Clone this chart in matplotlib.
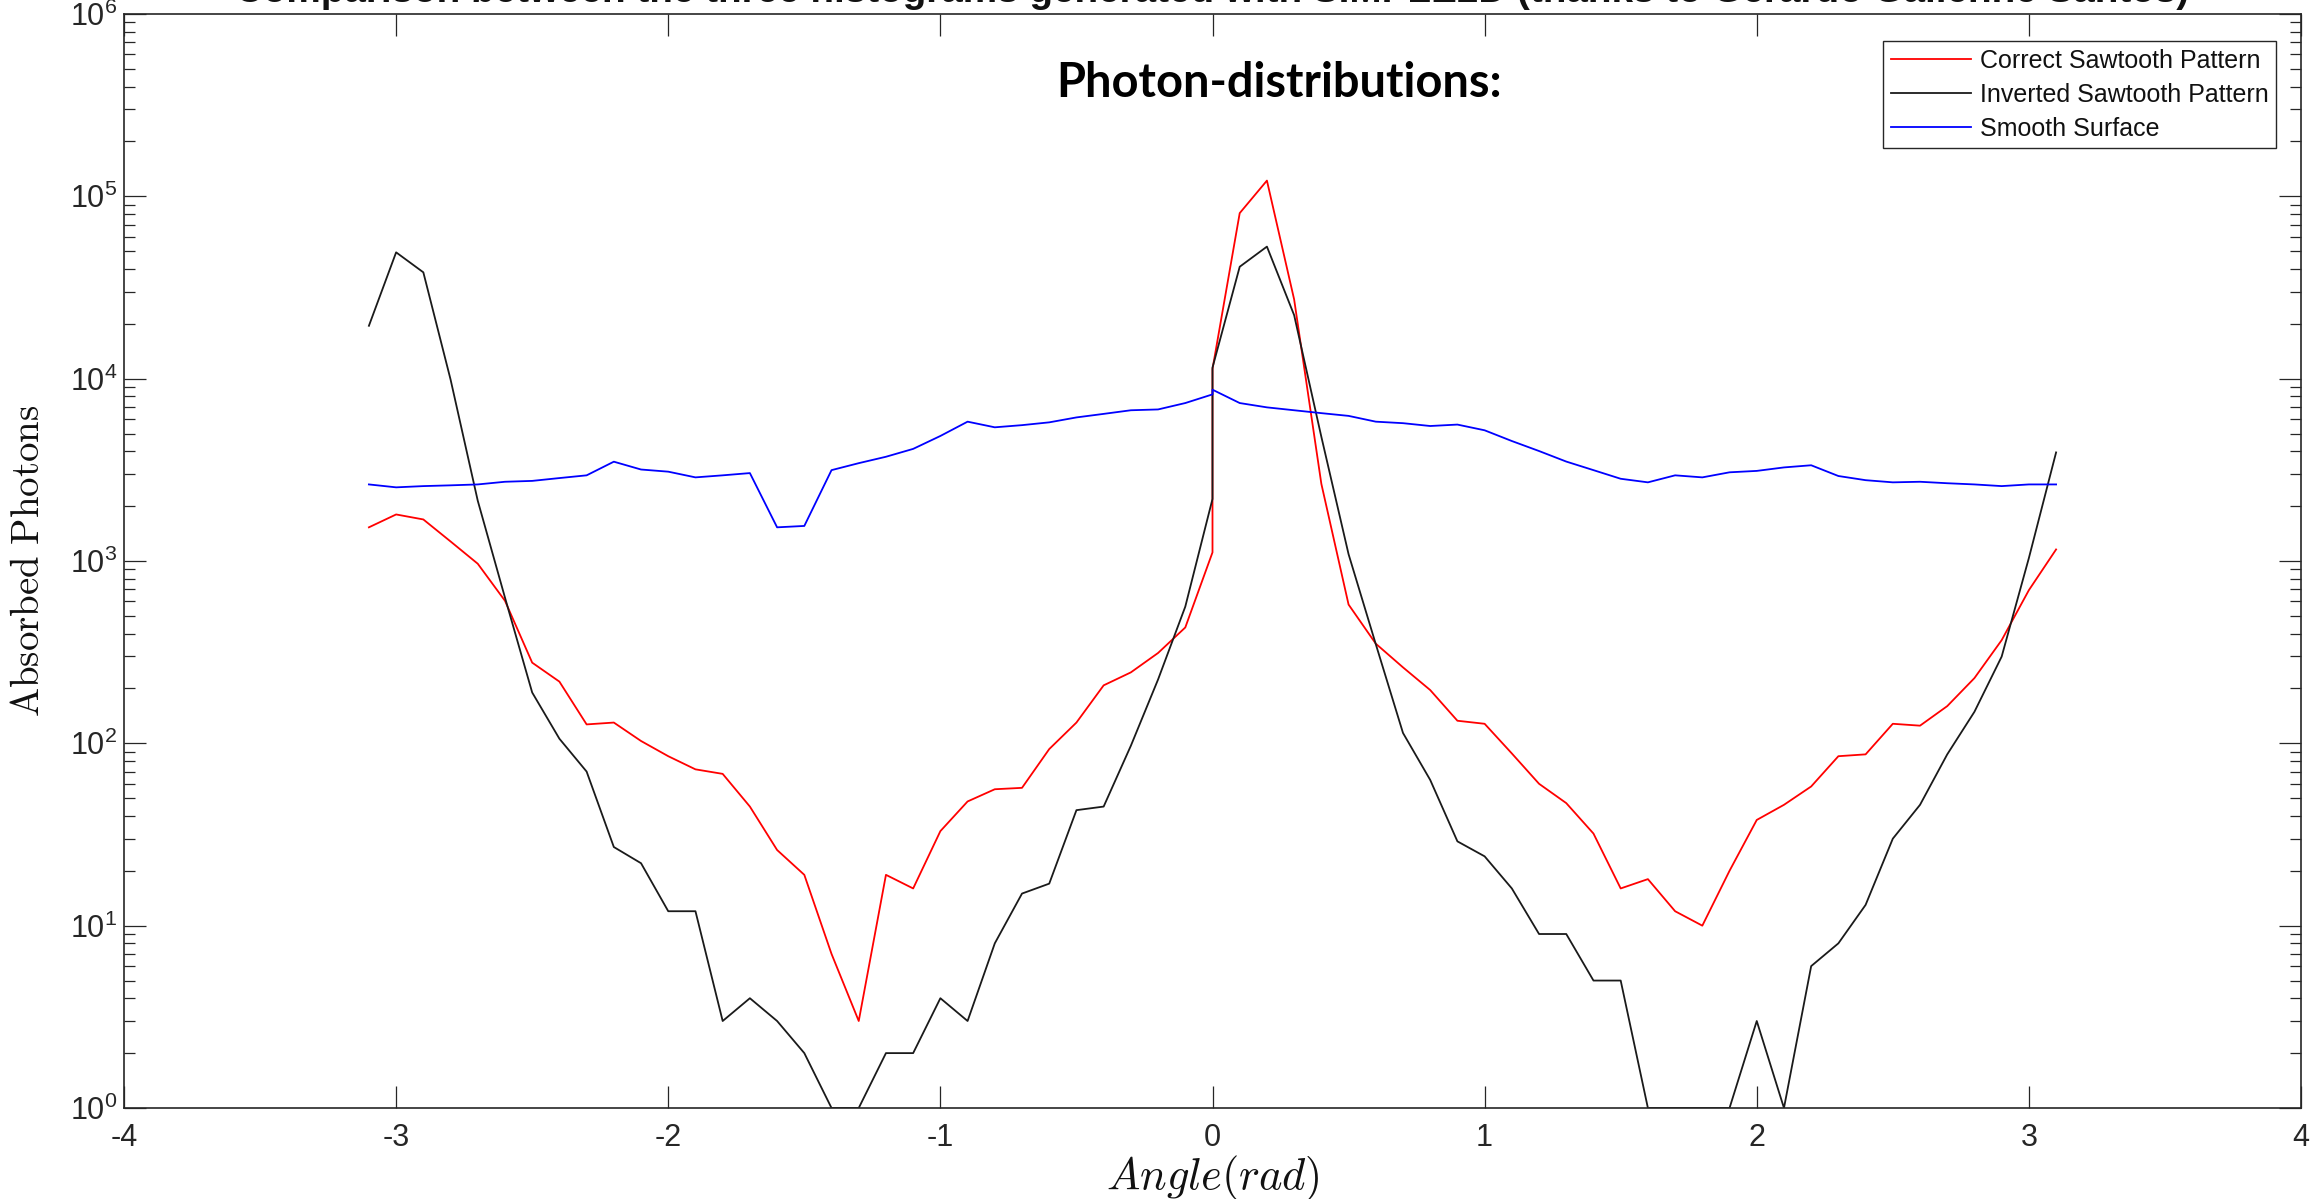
import matplotlib
matplotlib.use('Agg')
import numpy as np
import matplotlib.pyplot as plt
from matplotlib.ticker import FixedLocator, FuncFormatter, NullFormatter

# ---------------- data ----------------
angle = [-3.1, -3.0, -2.9, -2.8, -2.7, -2.6, -2.5, -2.4, -2.3, -2.2, -2.1,
         -2.0, -1.9, -1.8, -1.7, -1.6, -1.5, -1.4, -1.3, -1.2, -1.1,
         -1.0, -0.9, -0.8, -0.7, -0.6, -0.5, -0.4, -0.3, -0.2, -0.1,
         0.0, 0.0,
         0.1, 0.2, 0.3, 0.4, 0.5, 0.6, 0.7, 0.8, 0.9, 1.0,
         1.1, 1.2, 1.3, 1.4, 1.5, 1.6, 1.7, 1.8, 1.9, 2.0,
         2.1, 2.2, 2.3, 2.4, 2.5, 2.6, 2.7, 2.8, 2.9, 3.0, 3.1]

correct_sawtooth = [1530, 1800, 1690, 1280, 966, 605, 277, 218, 127, 130, 103,
                    85, 72, 68, 45, 26, 19, 7, 3, 19, 16,
                    33, 48, 56, 57, 93, 130, 208, 245, 313, 432,
                    1115, 11300,
                    80900, 122000, 27200, 2650, 577, 352, 261, 196, 133, 128,
                    88, 60, 47, 32, 16, 18, 12, 10, 20, 38,
                    46, 58, 85, 87, 128, 125, 160, 228, 368, 692, 1157]

inverted_sawtooth = [19500, 49300, 38300, 9900, 2140, 630, 190, 106, 70, 27, 22,
                     12, 12, 3, 4, 3, 2, 1, 1, 2, 2,
                     4, 3, 8, 15, 17, 43, 45, 97, 224, 562,
                     2190, 11500,
                     41100, 53000, 22300, 4800, 1090, 350, 114, 63, 29, 24,
                     16, 9, 9, 5, 5, 1, 1, 1, 1, 3,
                     1, 6, 8, 13, 30, 46, 87, 149, 299, 1038, 3940]

smooth_surface = [2630, 2535, 2575, 2600, 2630, 2720, 2750, 2850, 2950, 3505, 3175,
                  3090, 2875, 2950, 3035, 1530, 1557, 3150, 3440, 3730, 4120,
                  4850, 5810, 5410, 5560, 5760, 6130, 6410, 6710, 6780, 7350,
                  8200, 8700,
                  7350, 6960, 6710, 6470, 6250, 5810, 5700, 5500, 5600, 5210,
                  4550, 4010, 3510, 3150, 2825, 2700, 2950, 2875, 3065, 3120,
                  3260, 3350, 2925, 2775, 2700, 2720, 2670, 2630, 2575, 2630, 2630]

series_labels = ['Correct Sawtooth Pattern', 'Inverted Sawtooth Pattern', 'Smooth Surface']
x_ticks = [-4, -3, -2, -1, 0, 1, 2, 3, 4]
y_ticks = [1e0, 1e1, 1e2, 1e3, 1e4, 1e5, 1e6]

title_text = 'Comparison between the three histograms generated with SIMPLE2D (thanks to Gerardo Gallenne Santos)'
subtitle_text = 'Photon-distributions:'
xlabel_text = r'$Angle(rad)$'
ylabel_text = r'$\mathrm{Absorbed\ Photons}$'

# ---------------- style ----------------
plt.rcParams['font.family'] = ['Liberation Sans', 'DejaVu Sans']
plt.rcParams['mathtext.fontset'] = 'custom'
plt.rcParams['mathtext.rm'] = 'Liberation Sans'
plt.rcParams['mathtext.it'] = 'Liberation Sans:italic'
plt.rcParams['mathtext.bf'] = 'Liberation Sans:bold'
plt.rcParams['axes.unicode_minus'] = False

W, H = 2313, 1199
fig = plt.figure(figsize=(W / 100, H / 100), dpi=100)
ax_l, ax_r, ax_t, ax_b = 124 / W, 2301 / W, 1 - 14 / H, 1 - 1108 / H
ax = fig.add_axes([ax_l, ax_b, ax_r - ax_l, ax_t - ax_b])

axc = '#262626'
lw = 1.3
ax.plot(angle, correct_sawtooth, color='#ff0000', lw=lw, label=series_labels[0])
ax.plot(angle, inverted_sawtooth, color='#1a1a1a', lw=lw, label=series_labels[1])
ax.plot(angle, smooth_surface, color='#0000ff', lw=lw, label=series_labels[2])

ax.set_yscale('log')
ax.set_xlim(-4, 4)
ax.set_ylim(1, 1e6)
ax.xaxis.set_major_locator(FixedLocator(x_ticks))
ax.yaxis.set_major_locator(FixedLocator(y_ticks))
minor = [m * 10.0 ** d for d in range(0, 6) for m in range(2, 10)]
ax.yaxis.set_minor_locator(FixedLocator(minor))
ax.yaxis.set_minor_formatter(NullFormatter())
ax.yaxis.set_major_formatter(FuncFormatter(lambda v, p: r'$10^{%d}$' % int(round(np.log10(v)))))
ax.xaxis.set_major_formatter(FuncFormatter(lambda v, p: '%d' % v))

for s in ax.spines.values():
    s.set_color(axc)
    s.set_linewidth(1.2)

ax.tick_params(which='major', direction='in', length=15.5, width=0.9, color=axc,
               top=True, right=True, labelsize=22, labelcolor=axc)
ax.tick_params(which='minor', direction='in', length=8, width=0.9, color=axc,
               top=False, right=True)
ax.tick_params(axis='x', which='major', pad=11)
ax.tick_params(axis='y', which='major', pad=5)

# labels
ax.set_xlabel(xlabel_text, fontsize=32, math_fontfamily='cm', color='#111111')
ax.xaxis.label.set_va('baseline')
ax.xaxis.set_label_coords(0.5, -(1189 - 1108) / 1094)
ax.set_ylabel(ylabel_text, fontsize=28, math_fontfamily='cm', color='#111111')
ax.yaxis.set_label_coords((47 - 124) / 2177, 0.5)

leg = ax.legend(loc='upper right', bbox_to_anchor=(0.9885, 0.975), borderaxespad=0,
                fancybox=False, edgecolor=axc, framealpha=1, fontsize=18,
                handlelength=3.2, handletextpad=0.35, labelspacing=0.4, borderpad=0.3)
leg.get_frame().set_linewidth(1.0)
for t in leg.get_texts():
    t.set_color('#111111')

# title (mostly cut off at top, as in the original) and subtitle
cx = (ax_l + ax_r) / 2
title = fig.text(cx, 1 - 2 / H, title_text, ha='center', va='baseline',
                 fontweight='bold', fontsize=24, color='#111111')
sub = fig.text(1279 / W, 1 - 97 / H, subtitle_text, ha='center', va='baseline',
               fontweight='bold', fontsize=32, family=['Lato', 'DejaVu Sans'], color='black')

fig.canvas.draw()
r = fig.canvas.get_renderer()
for txt, target in ((title, 1959), (sub, 446)):
    w = txt.get_window_extent(r).width
    txt.set_fontsize(txt.get_fontsize() * target / w)

fig.savefig('out.png', dpi=100)
